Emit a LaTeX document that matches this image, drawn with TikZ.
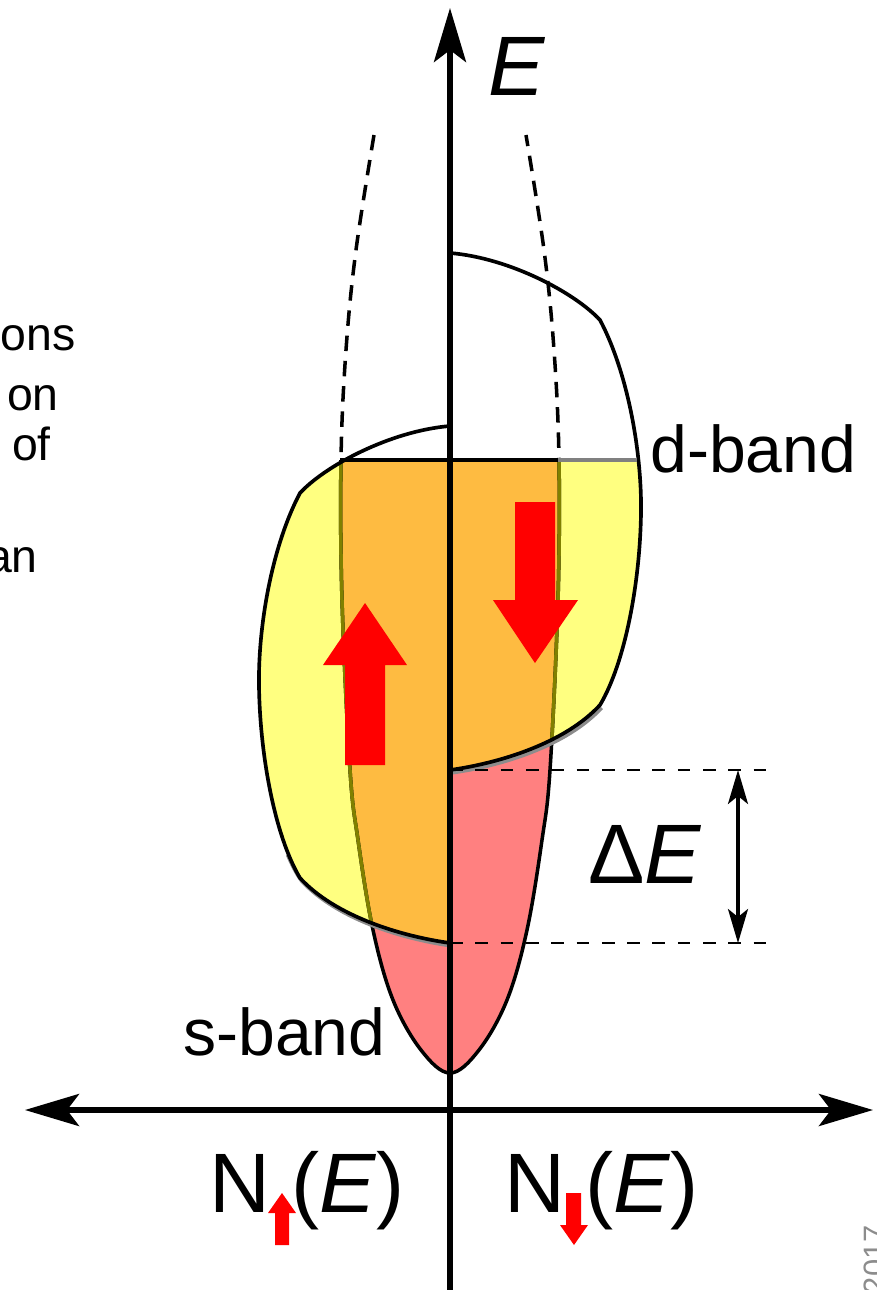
\documentclass[tikz,border=0pt]{standalone}
\usepackage{fontspec}
\setmainfont{Liberation Sans}
\usetikzlibrary{arrows.meta}
\definecolor{DYellow}{RGB}{255,255,128}
\definecolor{SPink}{RGB}{255,128,128}
\definecolor{DOrange}{RGB}{254,187,65}
\definecolor{BandOlive}{RGB}{128,128,0}
\definecolor{SpinRed}{RGB}{255,0,0}
\definecolor{EdgeGray}{RGB}{128,128,128}
\tikzset{
  axisline/.style={line width=3.8pt},
  bandedge/.style={draw=black,line width=2.6pt},
  bandshadow/.style={draw=black!45,line width=2.6pt},
  scurve/.style={line width=2.5pt},
  levelline/.style={line width=2pt,dash pattern=on 9pt off 9pt},
  spinarrow/.style={fill=SpinRed},
  biglbl/.style={font=\fontsize{60}{72}\selectfont,inner sep=0pt},
  bandlbl/.style={font=\fontsize{47}{56}\selectfont,inner sep=0pt},
  fraglbl/.style={font=\fontsize{33}{40}\selectfont,inner sep=0pt},
}
% s-band density of states, one branch for each spin
\newcommand{\sbandcurve}{plot[smooth,tension=0.6] coordinates {(374,135) (356,250)
  (346,350) (341,460) (342,600) (350,770) (358,840) (373,930) (393,1000) (421,1050)
  (450,1073) (479,1050) (507,1000) (527,930) (542,840) (550,770) (558,600) (559,460)
  (554,350) (544,250) (526,135)}}
% d-band, spin down (right) and spin up (left, shifted down by Delta E)
\newcommand{\dbandright}{(450,253) .. controls (510,258) and (575,293) .. (600,320)
  .. controls (628,373) and (642,453) .. (641,513)
  .. controls (640,583) and (625,663) .. (600,705)
  .. controls (565,743) and (500,763) .. (450,770)}
\newcommand{\dbandleft}{(450,426) .. controls (390,431) and (325,466) .. (300,493)
  .. controls (272,546) and (258,626) .. (259,686)
  .. controls (260,756) and (275,836) .. (300,878)
  .. controls (335,916) and (400,936) .. (450,943)}

\begin{document}
\begin{tikzpicture}[x=0.025cm,y=-0.025cm]
  \useasboundingbox (0,0) rectangle (876,1290);

  % occupied states below the Fermi level
  \begin{scope}
    \clip (0,460) rectangle (876,1290);
    \fill[SPink] \sbandcurve -- cycle;
    \fill[DYellow] \dbandleft -- cycle;
    \fill[DYellow] \dbandright -- cycle;
    \clip \sbandcurve -- cycle;
    \fill[DOrange] \dbandleft -- cycle;
    \fill[DOrange] \dbandright -- cycle;
  \end{scope}

  % s-band curves: dashed above E_F, solid below, olive under the d-band
  \begin{scope}
    \clip (0,0) rectangle (876,460);
    \draw[scurve,dash pattern=on 11pt off 7pt] \sbandcurve;
  \end{scope}
  \begin{scope}
    \clip (0,460) rectangle (876,1290);
    \draw[scurve] \sbandcurve;
    \clip \dbandleft -- cycle \dbandright -- cycle;
    \draw[scurve,BandOlive] \sbandcurve;
  \end{scope}

  % d-band outlines
  \begin{scope}[xshift=0.04cm,yshift=-0.07cm]
    \draw[bandshadow] (600,705) .. controls (565,743) and (500,763) .. (450,770);
    \draw[bandshadow] (286,852) .. controls (290,861) and (294,870) .. (300,878)
      .. controls (335,916) and (400,936) .. (450,943);
  \end{scope}
  \draw[bandedge] \dbandright;
  \draw[bandedge] \dbandleft;

  % Fermi level
  \coordinate (EFl) at (340,460);
  \coordinate (EFs) at (558,460);
  \coordinate (EFr) at (637,460);
  \draw[line width=2.6pt] (EFl) -- (EFs);
  \draw[line width=2.6pt,EdgeGray] (EFs) -- (EFr);

  % axes
  \coordinate (Ebot) at (450,1290);
  \coordinate (Etop) at (450,8);
  \coordinate (Nl) at (25,1110);
  \coordinate (Nr) at (873,1110);
  \draw[axisline,-{Stealth[length=1.35cm,width=0.8cm,inset=0.3cm]}] (Ebot) -- (Etop);
  \draw[axisline,{Stealth[length=1.35cm,width=0.8cm,inset=0.3cm]}-{Stealth[length=1.35cm,width=0.8cm,inset=0.3cm]}] (Nl) -- (Nr);

  % exchange splitting
  \coordinate (dnbot) at (450,770);
  \coordinate (upbot) at (450,943);
  \coordinate (dnend) at (766,770);
  \coordinate (upend) at (766,943);
  \coordinate (dEtop) at (738,770);
  \coordinate (dEbot) at (738,943);
  \draw[levelline] (dnbot) -- (dnend);
  \draw[levelline] (upbot) -- (upend);
  \draw[line width=2.2pt,{Stealth[length=0.85cm,width=0.5cm,inset=0.2cm]}-{Stealth[length=0.85cm,width=0.5cm,inset=0.2cm]}] (dEtop) -- (dEbot);

  % spin arrows
  \fill[spinarrow] (345,765) -- (345,665) -- (323,665) -- (365,603) -- (407,665)
    -- (385,665) -- (385,765) -- cycle;
  \fill[spinarrow] (515,502) -- (515,600) -- (493,600) -- (535,663) -- (578,600)
    -- (555,600) -- (555,502) -- cycle;
  \fill[spinarrow] (275,1245) -- (275,1213) -- (268,1213) -- (282,1193) -- (296,1213)
    -- (289,1213) -- (289,1245) -- cycle;
  \fill[spinarrow] (566,1193) -- (566,1225) -- (560,1225) -- (574,1245) -- (588,1225)
    -- (581,1225) -- (581,1193) -- cycle;

  % labels
  \node[biglbl,anchor=base west] (Elbl) at (488,95) {\textit{E}};
  \node[biglbl,anchor=base west] (dElbl) at (588,883) {Δ\textit{E}};
  \node[bandlbl,anchor=base west] (dlbl) at (650,472) {d-band};
  \node[bandlbl,anchor=base west] (slbl) at (183,1055) {s-band};
  \node[biglbl,anchor=base west] (Nup) at (209,1212) {N};
  \node[biglbl,anchor=base west] (NupE) at (291,1212) {(\textit{E})};
  \node[biglbl,anchor=base west] (Ndn) at (504,1212) {N};
  \node[biglbl,anchor=base west] (NdnE) at (585,1212) {(\textit{E})};

  % text cut off at the left edge
  \node[fraglbl,anchor=base east] (frA) at (76,350) {ons};
  \node[fraglbl,anchor=base east] (frB) at (59,410) {on};
  \node[fraglbl,anchor=base east] (frC) at (51,460) {of};
  \node[fraglbl,anchor=base east] (frD) at (38,572) {an};
  \node[font=\fontsize{22}{26}\selectfont,inner sep=0pt,text=black!45,rotate=90,
    anchor=base east] (mark) at (885,1225) {2017};
\end{tikzpicture}
\end{document}
